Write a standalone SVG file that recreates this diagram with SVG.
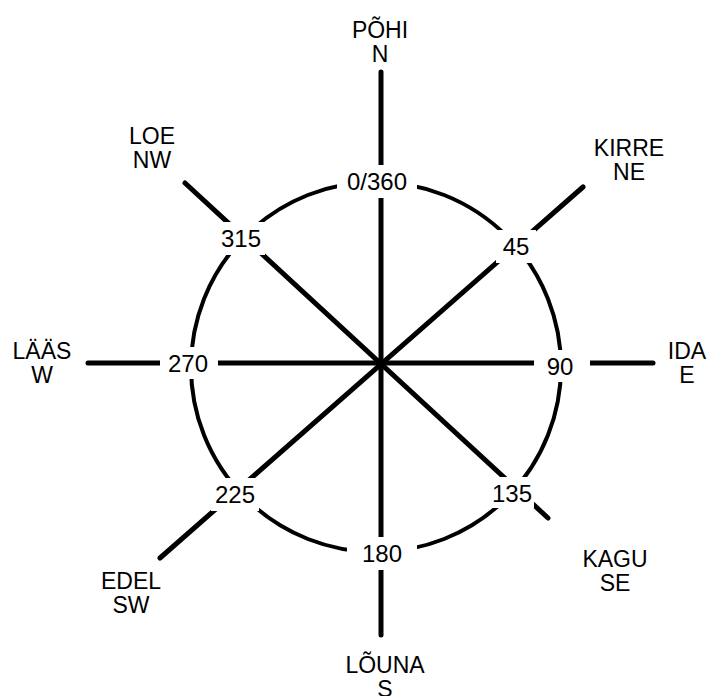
<svg xmlns="http://www.w3.org/2000/svg" width="707" height="696" viewBox="0 0 707 696">
<style>
.ln{stroke:#000;stroke-width:5;stroke-linecap:round;fill:none}
.ring{stroke:#000;stroke-width:4;fill:none}
.bg{fill:#fff}
.t{font-family:"Liberation Sans",Arial,sans-serif;font-size:24px;fill:#000;text-anchor:middle}
.d{font-family:"Liberation Sans",Arial,sans-serif;font-size:23px;fill:#000;text-anchor:middle}
</style>
<rect width="707" height="696" fill="#fff"/>
<g id="connectors">
<line class="ln" x1="381" y1="72" x2="381" y2="635"/>
<line class="ln" x1="88" y1="363" x2="653" y2="363"/>
<line class="ln" x1="583" y1="187" x2="160" y2="558"/>
<line class="ln" x1="185" y1="183" x2="548" y2="518"/>
</g>
<g id="ring">
<circle class="ring" cx="376" cy="367" r="185"/>
</g>
<g id="degrees">
<g id="d0"><rect class="bg" x="337" y="165" width="80" height="33"/><text class="t" x="377" y="190">0/360</text></g>
<g id="d45"><rect class="bg" x="496" y="230" width="40" height="33"/><text class="t" x="516" y="255">45</text></g>
<g id="d90"><rect class="bg" x="534" y="350" width="56" height="32"/><text class="t" x="560" y="375">90</text></g>
<g id="d135"><rect class="bg" x="488" y="477" width="46" height="31"/><text class="t" x="512" y="502">135</text></g>
<g id="d180"><rect class="bg" x="347" y="537" width="70" height="33"/><text class="t" x="382" y="562">180</text></g>
<g id="d225"><rect class="bg" x="211" y="478" width="48" height="33"/><text class="t" x="235" y="503">225</text></g>
<g id="d270"><rect class="bg" x="160" y="347" width="58" height="32"/><text class="t" x="188" y="372">270</text></g>
<g id="d315"><rect class="bg" x="217" y="222" width="48" height="33"/><text class="t" x="241" y="247">315</text></g>
</g>
<g id="directions">
<g id="n"><text class="d" x="380" y="38">PÕHI</text><text class="d" x="380" y="62">N</text></g>
<g id="ne"><text class="d" x="629" y="156">KIRRE</text><text class="d" x="629" y="180">NE</text></g>
<g id="e"><text class="d" x="687" y="359">IDA</text><text class="d" x="687" y="383">E</text></g>
<g id="se"><text class="d" x="615" y="567">KAGU</text><text class="d" x="615" y="591">SE</text></g>
<g id="s"><text class="d" x="385" y="673">LÕUNA</text><text class="d" x="385" y="697">S</text></g>
<g id="sw"><text class="d" x="131" y="589">EDEL</text><text class="d" x="131" y="613">SW</text></g>
<g id="w"><text class="d" x="42" y="359">LÄÄS</text><text class="d" x="42" y="383">W</text></g>
<g id="nw"><text class="d" x="152" y="144">LOE</text><text class="d" x="152" y="168">NW</text></g>
</g>
</svg>
